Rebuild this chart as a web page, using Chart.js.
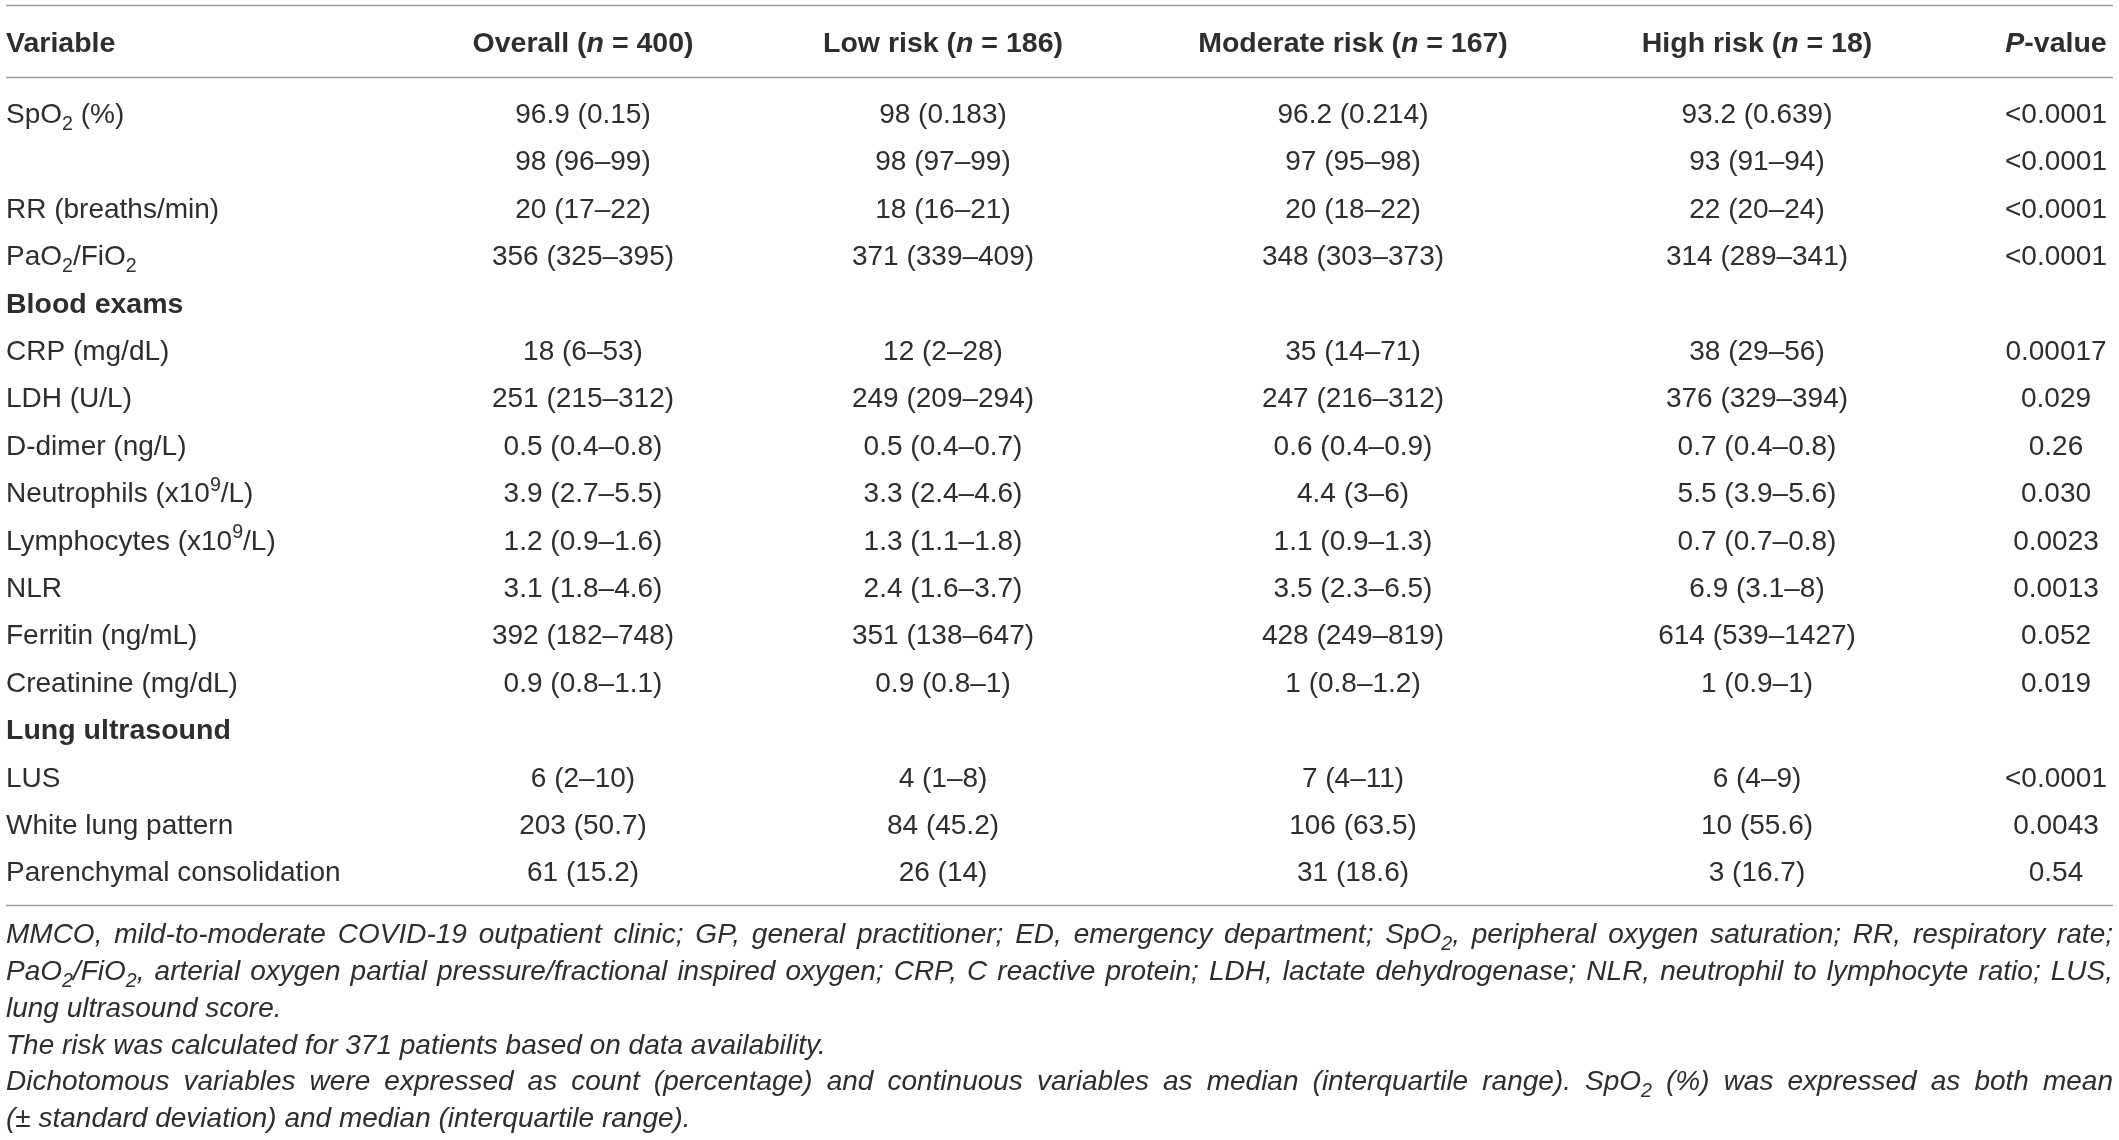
<!DOCTYPE html>
<html>
<head>
<meta charset="utf-8">
<title>Clinical characteristics by risk group</title>
<script src="https://cdn.jsdelivr.net/npm/chart.js@4.4.1/dist/chart.umd.min.js"></script>
<style>
    html, body { margin: 0; padding: 0; background: #ffffff; }
    #wrap { width: 2119px; height: 1140px; position: relative; }
</style>
</head>
<body>
<div id="wrap"><canvas id="chart-table"></canvas></div>
<script>
// table content
// markup: *x* italic, _{x} subscript, ^{x} superscript
const headers = ["Variable", "Overall (*n* = 400)", "Low risk (*n* = 186)", "Moderate risk (*n* = 167)", "High risk (*n* = 18)", "*P*-value"];
const variables = [
    "SpO_{2} (%)", "", "RR (breaths/min)", "PaO_{2}/FiO_{2}",
    "Blood exams", "CRP (mg/dL)", "LDH (U/L)", "D-dimer (ng/L)",
    "Neutrophils (x10^{9}/L)", "Lymphocytes (x10^{9}/L)", "NLR",
    "Ferritin (ng/mL)", "Creatinine (mg/dL)",
    "Lung ultrasound", "LUS", "White lung pattern", "Parenchymal consolidation"
];
const sectionRows = ["Blood exams", "Lung ultrasound"];
const overall = [
    "96.9 (0.15)", "98 (96–99)", "20 (17–22)", "356 (325–395)",
    "", "18 (6–53)", "251 (215–312)", "0.5 (0.4–0.8)",
    "3.9 (2.7–5.5)", "1.2 (0.9–1.6)", "3.1 (1.8–4.6)",
    "392 (182–748)", "0.9 (0.8–1.1)",
    "", "6 (2–10)", "203 (50.7)", "61 (15.2)"
];
const lowRisk = [
    "98 (0.183)", "98 (97–99)", "18 (16–21)", "371 (339–409)",
    "", "12 (2–28)", "249 (209–294)", "0.5 (0.4–0.7)",
    "3.3 (2.4–4.6)", "1.3 (1.1–1.8)", "2.4 (1.6–3.7)",
    "351 (138–647)", "0.9 (0.8–1)",
    "", "4 (1–8)", "84 (45.2)", "26 (14)"
];
const moderateRisk = [
    "96.2 (0.214)", "97 (95–98)", "20 (18–22)", "348 (303–373)",
    "", "35 (14–71)", "247 (216–312)", "0.6 (0.4–0.9)",
    "4.4 (3–6)", "1.1 (0.9–1.3)", "3.5 (2.3–6.5)",
    "428 (249–819)", "1 (0.8–1.2)",
    "", "7 (4–11)", "106 (63.5)", "31 (18.6)"
];
const highRisk = [
    "93.2 (0.639)", "93 (91–94)", "22 (20–24)", "314 (289–341)",
    "", "38 (29–56)", "376 (329–394)", "0.7 (0.4–0.8)",
    "5.5 (3.9–5.6)", "0.7 (0.7–0.8)", "6.9 (3.1–8)",
    "614 (539–1427)", "1 (0.9–1)",
    "", "6 (4–9)", "10 (55.6)", "3 (16.7)"
];
const pValues = [
    "<0.0001", "<0.0001", "<0.0001", "<0.0001",
    "", "0.00017", "0.029", "0.26",
    "0.030", "0.0023", "0.0013",
    "0.052", "0.019",
    "", "<0.0001", "0.0043", "0.54"
];
const footnotes = [
    "MMCO, mild-to-moderate COVID-19 outpatient clinic; GP, general practitioner; ED, emergency department; SpO_{2}, peripheral oxygen saturation; RR, respiratory rate;",
    "PaO_{2}/FiO_{2}, arterial oxygen partial pressure/fractional inspired oxygen; CRP, C reactive protein; LDH, lactate dehydrogenase; NLR, neutrophil to lymphocyte ratio; LUS,",
    "lung ultrasound score.",
    "The risk was calculated for 371 patients based on data availability.",
    "Dichotomous variables were expressed as count (percentage) and continuous variables as median (interquartile range). SpO_{2} (%) was expressed as both mean",
    "(± standard deviation) and median (interquartile range)."
];
const justified = [true, true, false, false, true, false];

// layout (x in pixel units, y in row units)
const FONT = "'Liberation Sans', Arial, Helvetica, sans-serif";
const TEXT_COLOR = "#2e2e2e";
const RULE_COLOR = "#9d9d9d";
const COL_X = [6, 583, 943, 1353, 1757, 2056];
const TABLE_LEFT = 6;
const TABLE_RIGHT = 2113;
const HEADER_ROW = -1.5;
const RULES = [-2.27, -0.77, 16.7];
const FOOT_START = 17.3;
const FOOT_STEP = 0.777;
const HEAD_SIZE = 28.5;
const BODY_SIZE = 28;
const NOTE_SIZE = 28;

const columns = [variables, overall, lowRisk, moderateRisk, highRisk, pValues];

function parseRich(str) {
    const runs = [];
    let italic = false;
    let buf = "";
    const flush = () => {
        if (buf) runs.push({ text: buf, italic: italic, mode: "n" });
        buf = "";
    };
    let i = 0;
    while (i < str.length) {
        const ch = str[i];
        if (ch === "*") {
            flush();
            italic = !italic;
            i++;
            continue;
        }
        if ((ch === "_" || ch === "^") && str[i + 1] === "{") {
            flush();
            const end = str.indexOf("}", i);
            runs.push({ text: str.slice(i + 2, end), italic: italic, mode: ch === "_" ? "sub" : "sup" });
            i = end + 1;
            continue;
        }
        buf += ch;
        i++;
    }
    flush();
    return runs;
}

function runFont(run, base) {
    const size = run.mode === "n" ? base.size : base.size * 0.7;
    const ital = run.italic || base.italic ? "italic " : "";
    return `${ital}${base.weight || "normal"} ${size}px ${FONT}`;
}

function richWidth(ctx, runs, base) {
    let w = 0;
    runs.forEach((r) => {
        ctx.font = runFont(r, base);
        w += ctx.measureText(r.text).width;
    });
    return w;
}

function drawRuns(ctx, runs, x, baseline, base) {
    runs.forEach((r) => {
        ctx.font = runFont(r, base);
        let yy = baseline;
        if (r.mode === "sub") yy += base.size * 0.24;
        if (r.mode === "sup") yy -= base.size * 0.4;
        ctx.fillText(r.text, x, yy);
        x += ctx.measureText(r.text).width;
    });
    return x;
}

function drawRich(ctx, str, x, cy, align, base) {
    const runs = parseRich(str);
    const w = richWidth(ctx, runs, base);
    let left = x;
    if (align === "center") left = x - w / 2;
    if (align === "right") left = x - w;
    drawRuns(ctx, runs, left, cy + base.size * 0.36, base);
}

function drawJustified(ctx, str, left, right, cy, base) {
    const words = str.split(" ").map((w) => parseRich(w));
    const widths = words.map((r) => richWidth(ctx, r, base));
    const total = widths.reduce((a, b) => a + b, 0);
    const gap = (right - left - total) / (words.length - 1);
    let x = left;
    words.forEach((r, i) => {
        drawRuns(ctx, r, x, cy + base.size * 0.36, base);
        x += widths[i] + gap;
    });
}

const tablePlugin = {
    id: "tableText",
    afterDatasetsDraw(chart) {
        const ctx = chart.ctx;
        const xs = chart.scales.x;
        const ys = chart.scales.y;
        ctx.save();
        ctx.textBaseline = "alphabetic";
        ctx.textAlign = "left";

        // horizontal rules
        ctx.strokeStyle = RULE_COLOR;
        ctx.lineWidth = 1.6;
        RULES.forEach((r) => {
            const py = Math.round(ys.getPixelForValue(r)) + 0.5;
            ctx.beginPath();
            ctx.moveTo(xs.getPixelForValue(TABLE_LEFT), py);
            ctx.lineTo(xs.getPixelForValue(TABLE_RIGHT), py);
            ctx.stroke();
        });

        ctx.fillStyle = TEXT_COLOR;

        // header row
        headers.forEach((h, c) => {
            drawRich(ctx, h, xs.getPixelForValue(COL_X[c]), ys.getPixelForValue(HEADER_ROW),
                c === 0 ? "left" : "center", { size: HEAD_SIZE, weight: "bold" });
        });

        // body cells, placed on the dataset points
        chart.data.datasets.forEach((ds, d) => {
            const meta = chart.getDatasetMeta(d);
            meta.data.forEach((pt, i) => {
                const txt = ds.cellText[i];
                if (!txt) return;
                const bold = d === 0 && sectionRows.includes(txt);
                drawRich(ctx, txt, pt.x, pt.y, d === 0 ? "left" : "center",
                    { size: bold ? HEAD_SIZE : BODY_SIZE, weight: bold ? "bold" : "normal" });
            });
        });

        // footnotes
        const left = xs.getPixelForValue(TABLE_LEFT);
        const right = xs.getPixelForValue(TABLE_RIGHT);
        footnotes.forEach((f, i) => {
            const cy = ys.getPixelForValue(FOOT_START + i * FOOT_STEP);
            const base = { size: NOTE_SIZE, weight: "normal", italic: true };
            if (justified[i]) drawJustified(ctx, f, left, right, cy, base);
            else drawRich(ctx, f, left, cy, "left", base);
        });
        ctx.restore();
    }
};

function buildDatasets() {
    return columns.map((col, c) => ({
        label: headers[c],
        data: col.map((_, i) => ({ x: COL_X[c], y: i })),
        cellText: col,
        pointRadius: 0,
        pointHoverRadius: 0,
        showLine: false
    }));
}

document.addEventListener("DOMContentLoaded", function () {
    const ctx = document.getElementById("chart-table").getContext("2d");
    new Chart(ctx, {
        type: "scatter",
        data: { datasets: buildDatasets() },
        options: {
            responsive: true,
            maintainAspectRatio: false,
            animation: false,
            events: [],
            layout: { padding: 0 },
            plugins: {
                legend: { display: false },
                tooltip: { enabled: false }
            },
            scales: {
                x: { type: "linear", min: 0, max: 2119, display: false },
                y: { type: "linear", min: -2.384, max: 21.667, reverse: true, display: false }
            }
        },
        plugins: [tablePlugin]
    });
});
</script>
</body>
</html>
